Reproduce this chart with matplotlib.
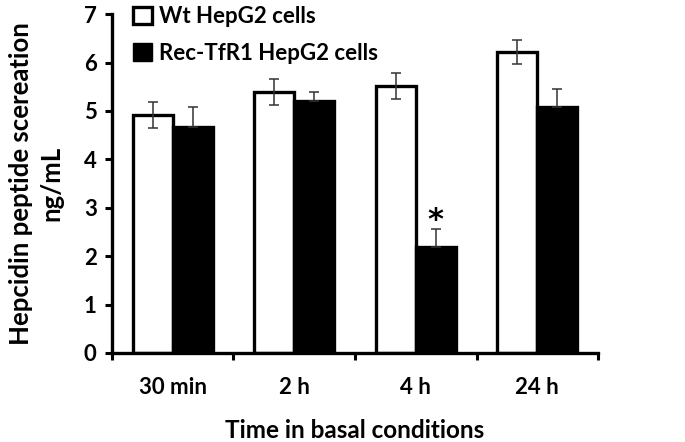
import numpy as np
import matplotlib.pyplot as plt
from matplotlib.patches import Patch

plt.rcParams['font.family'] = ['Lato', 'DejaVu Sans']
plt.rcParams['font.weight'] = 'bold'

categories = ['30 min', '2 h', '4 h', '24 h']
wt_values = [4.92, 5.39, 5.52, 6.22]
wt_err = [0.27, 0.27, 0.27, 0.25]
rec_values = [4.67, 5.21, 2.19, 5.08]
rec_err = [0.41, 0.18, 0.37, 0.37]
star_index = 2

fig = plt.figure(figsize=(6.85, 4.42), dpi=100)
ax = fig.add_axes([0.1635, 0.2014, 0.7095, 0.7666])

x = np.arange(len(categories))
w = 0.33
ax.bar(x - w / 2, wt_values, w, color='white', edgecolor='black', linewidth=2.4, zorder=2)
ax.bar(x + w / 2, rec_values, w, color='black', edgecolor='black', linewidth=2.4, zorder=2)
ax.errorbar(x - w / 2, wt_values, yerr=wt_err, fmt='none', ecolor='#333333',
            elinewidth=1.1, capsize=3.8, capthick=1.1, zorder=3)
ax.errorbar(x + w / 2, rec_values, yerr=[np.zeros(len(rec_err)), rec_err], fmt='none',
            ecolor='#333333', elinewidth=1.1, capsize=3.8, capthick=1.1, zorder=3)

# significance mark
ax.text(x[star_index] + w / 2, rec_values[star_index] + rec_err[star_index] - 0.12, '*',
        ha='center', va='bottom', fontsize=22, fontweight='bold', family='DejaVu Sans')

ax.set_xlim(-0.5, len(categories) - 0.5)
ax.set_ylim(0, 7)
ax.set_yticks(range(0, 8))
ax.set_xticks(x)
ax.set_xticklabels(categories)
ax.set_xticks(np.arange(-0.5, len(categories), 1.0), minor=True)
ax.tick_params(axis='x', which='major', length=0, pad=17, labelsize=16)
ax.tick_params(axis='x', which='minor', length=5, width=2.2, direction='out')
ax.tick_params(axis='y', length=5, width=2.2, direction='out', labelsize=16, pad=6)

for s in ['top', 'right']:
    ax.spines[s].set_visible(False)
for s in ['left', 'bottom']:
    ax.spines[s].set_linewidth(2.4)

ax.set_xlabel('Time in basal conditions', fontsize=17.5, fontweight='bold')
ax.xaxis.set_label_coords(0.5, -0.195)
ax.set_ylabel('Hepcidin peptide scereation\nng/mL', fontsize=18.5, fontweight='bold',
              linespacing=1.3)
ax.yaxis.set_label_coords(-0.1, 0.5)

handles = [Patch(facecolor='white', edgecolor='black', linewidth=2.4, label='Wt HepG2 cells'),
           Patch(facecolor='black', edgecolor='black', label='Rec-TfR1 HepG2 cells')]
ax.legend(handles=handles, loc='upper left', bbox_to_anchor=(0.025, 1.05), frameon=False,
          fontsize=16, handlelength=0.85, handleheight=0.85, handletextpad=0.3,
          labelspacing=0.7, borderaxespad=0)

fig.savefig('out.png', dpi=100)
